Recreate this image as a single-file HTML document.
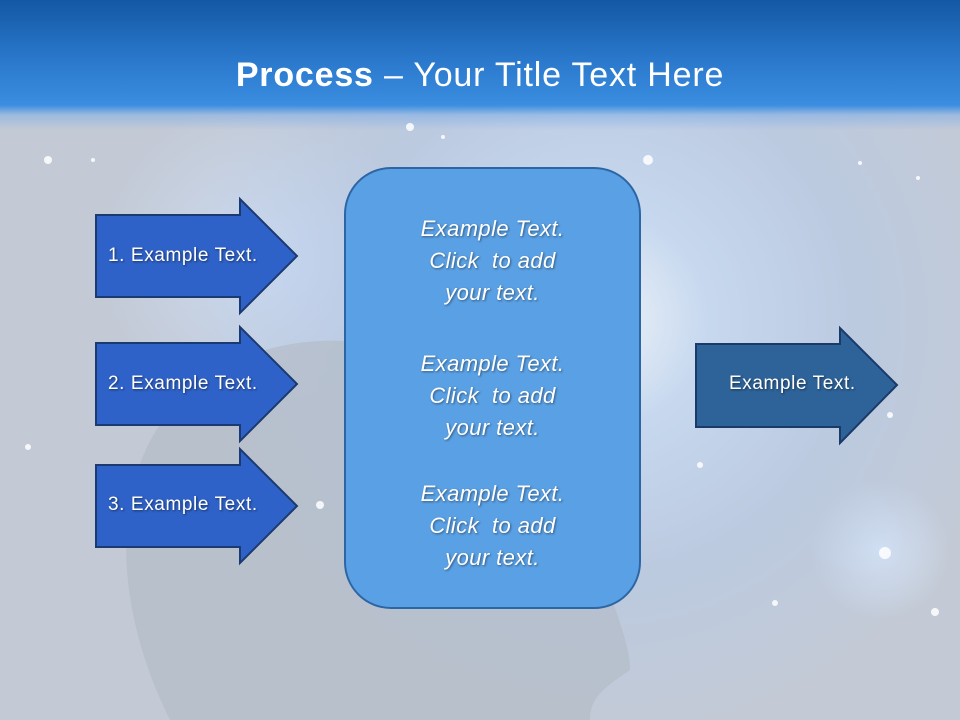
<!DOCTYPE html>
<html><head><style>
html,body{margin:0;padding:0}
body{width:960px;height:720px;overflow:hidden;position:relative;font-family:"Liberation Sans",sans-serif;
background:
radial-gradient(circle at 600px 320px, rgba(245,250,255,0.85) 0, rgba(200,225,255,0.6) 110px, rgba(170,200,245,0.3) 260px, rgba(197,203,214,0) 420px),
radial-gradient(circle at 260px 260px, rgba(210,228,255,0.6) 0, rgba(197,203,214,0) 160px),
radial-gradient(circle at 880px 550px, rgba(220,235,255,0.7) 0, rgba(197,203,214,0) 70px),
#c3cad6;}
.hdr{position:absolute;left:0;top:0;width:960px;height:130px;background:linear-gradient(#1358a4 0,#2a78cc 60px,#3a8de0 105px,rgba(120,170,230,0.5) 115px,rgba(197,203,214,0) 130px)}
.title{position:absolute;left:0;width:960px;top:56px;text-align:center;color:#fff;font-size:34px;letter-spacing:0.8px}
svg{position:absolute;left:0;top:0}
.t{position:absolute;color:#fff;font-size:19px;letter-spacing:0.6px;text-shadow:1px 1px 2px rgba(0,0,0,0.5)}
.c{position:absolute;left:345px;width:295px;text-align:center;color:#fff;font-style:italic;font-size:22px;letter-spacing:0.4px;line-height:32px;text-shadow:1px 1px 2px rgba(0,0,0,0.45)}
</style></head><body>
<div class="hdr"></div>
<svg width="960" height="720">
<path d="M170 720 C110 600 110 470 180 400 C240 340 330 330 400 350 L400 720 Z" fill="#b4bcc8" opacity="0.7"/>
<path d="M560 360 C600 420 610 500 600 560 C610 600 630 640 630 670 C600 690 590 700 590 720 L400 720 L400 350 Z" fill="#b4bcc8" opacity="0.7"/>
<g fill="#fff" opacity="0.85">
<circle cx="48" cy="160" r="4"/><circle cx="410" cy="127" r="4"/><circle cx="648" cy="160" r="5"/><circle cx="885" cy="553" r="6"/><circle cx="775" cy="603" r="3"/><circle cx="935" cy="612" r="4"/><circle cx="700" cy="465" r="3"/><circle cx="28" cy="447" r="3"/><circle cx="320" cy="505" r="4"/><circle cx="890" cy="415" r="3"/><circle cx="918" cy="178" r="2"/><circle cx="860" cy="163" r="2"/><circle cx="93" cy="160" r="2"/><circle cx="443" cy="137" r="2"/>
</g>
<g stroke="#1a3a70" stroke-width="2" fill="#2f62c8">
<path d="M96 215 H240 V199 L297 256 L240 313 V297 H96 Z"/>
<path d="M96 343 H240 V327 L297 384 L240 441 V425 H96 Z"/>
<path d="M96 465 H240 V449 L297 506 L240 563 V547 H96 Z"/>
</g>
<path d="M696 344 H840 V328 L897 385 L840 443 V427 H696 Z" fill="#2e6399" stroke="#1a3a6a" stroke-width="2"/>
<rect x="345" y="168" width="295" height="440" rx="46" fill="#5aa0e4" stroke="#2d66a4" stroke-width="2"/>
</svg>
<div class="title"><b>Process</b> – Your Title Text Here</div>
<div class="t" style="left:108px;top:245px">1. Example Text.</div>
<div class="t" style="left:108px;top:373px">2. Example Text.</div>
<div class="t" style="left:108px;top:494px">3. Example Text.</div>
<div class="t" style="left:729px;top:373px">Example Text.</div>
<div class="c" style="top:213px">Example Text.<br>Click &nbsp;to add<br>your text.</div>
<div class="c" style="top:348px">Example Text.<br>Click &nbsp;to add<br>your text.</div>
<div class="c" style="top:478px">Example Text.<br>Click &nbsp;to add<br>your text.</div>
</body></html>
